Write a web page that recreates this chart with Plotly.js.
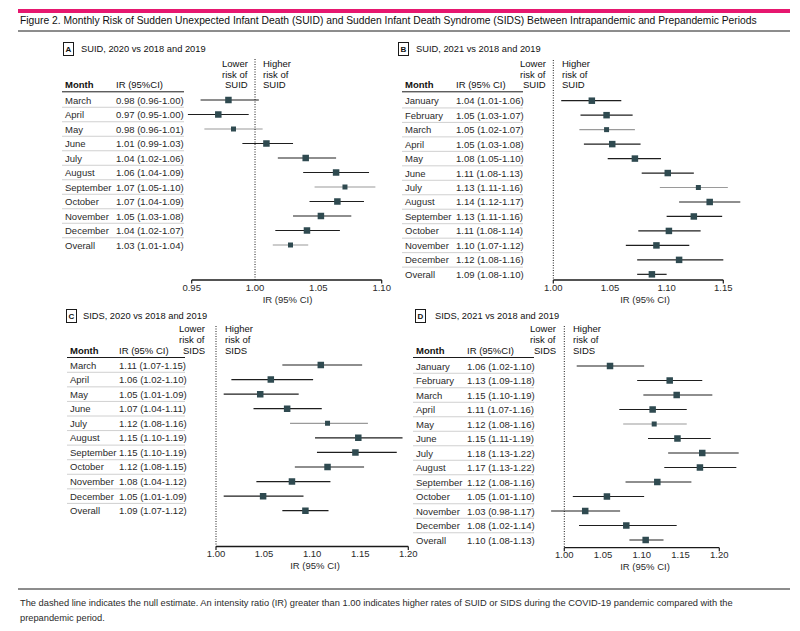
<!DOCTYPE html>
<html>
<head>
<meta charset="utf-8">
<script src="https://cdn.plot.ly/plotly-3.0.1.min.js"></script>
<style>
  html, body { margin: 0; padding: 0; background: #ffffff; }
  #chart { width: 800px; height: 631px; }
</style>
</head>
<body>
<div id="chart"></div>
<script>
// ---------------- DATA ----------------
const titleText = 'Figure 2. Monthly Risk of Sudden Unexpected Infant Death (SUID) and Sudden Infant Death Syndrome (SIDS) Between Intrapandemic and Prepandemic Periods';
const footLine1 = 'The dashed line indicates the null estimate. An intensity ratio (IR) greater than 1.00 indicates higher rates of SUID or SIDS during the COVID-19 pandemic compared with the';
const footLine2 = 'prepandemic period.';

// Panel A: SUID, 2020 vs 2018 and 2019
const monthsA = ['March','April','May','June','July','August','September','October','November','December','Overall'];
const irTextA = ['0.98 (0.96-1.00)','0.97 (0.95-1.00)','0.98 (0.96-1.01)','1.01 (0.99-1.03)','1.04 (1.02-1.06)','1.06 (1.04-1.09)','1.07 (1.05-1.10)','1.07 (1.04-1.09)','1.05 (1.03-1.08)','1.04 (1.02-1.07)','1.03 (1.01-1.04)'];
const estA = [0.979,0.971,0.983,1.009,1.040,1.064,1.071,1.065,1.052,1.041,1.028];
const loA  = [0.957,0.947,0.960,0.990,1.018,1.038,1.047,1.043,1.030,1.016,1.014];
const hiA  = [1.003,0.995,1.006,1.030,1.064,1.090,1.095,1.086,1.076,1.067,1.042];
const ticksA = [0.95,1.00,1.05,1.10];

// Panel B: SUID, 2021 vs 2018 and 2019
const monthsB = ['January','February','March','April','May','June','July','August','September','October','November','December','Overall'];
const irTextB = ['1.04 (1.01-1.06)','1.05 (1.03-1.07)','1.05 (1.02-1.07)','1.05 (1.03-1.08)','1.08 (1.05-1.10)','1.11 (1.08-1.13)','1.13 (1.11-1.16)','1.14 (1.12-1.17)','1.13 (1.11-1.16)','1.11 (1.08-1.14)','1.10 (1.07-1.12)','1.12 (1.08-1.16)','1.09 (1.08-1.10)'];
const estB = [1.034,1.047,1.047,1.052,1.072,1.101,1.128,1.138,1.124,1.102,1.091,1.111,1.087];
const loB  = [1.007,1.024,1.023,1.027,1.048,1.078,1.094,1.111,1.100,1.075,1.064,1.074,1.074];
const hiB  = [1.060,1.070,1.072,1.077,1.095,1.124,1.154,1.165,1.149,1.130,1.120,1.150,1.100];
const ticksB = [1.00,1.05,1.10,1.15];

// Panel C: SIDS, 2020 vs 2018 and 2019
const monthsC = ['March','April','May','June','July','August','September','October','November','December','Overall'];
const irTextC = ['1.11 (1.07-1.15)','1.06 (1.02-1.10)','1.05 (1.01-1.09)','1.07 (1.04-1.11)','1.12 (1.08-1.16)','1.15 (1.10-1.19)','1.15 (1.10-1.19)','1.12 (1.08-1.15)','1.08 (1.04-1.12)','1.05 (1.01-1.09)','1.09 (1.07-1.12)'];
const estC = [1.109,1.057,1.046,1.074,1.116,1.148,1.145,1.116,1.079,1.049,1.093];
const loC  = [1.069,1.016,1.008,1.039,1.077,1.103,1.105,1.082,1.042,1.008,1.069];
const hiC  = [1.152,1.101,1.086,1.110,1.158,1.194,1.188,1.154,1.119,1.091,1.117];
const ticksC = [1.00,1.05,1.10,1.15,1.20];

// Panel D: SIDS, 2021 vs 2018 and 2019
const monthsD = ['January','February','March','April','May','June','July','August','September','October','November','December','Overall'];
const irTextD = ['1.06 (1.02-1.10)','1.13 (1.09-1.18)','1.15 (1.10-1.19)','1.11 (1.07-1.16)','1.12 (1.08-1.16)','1.15 (1.11-1.19)','1.18 (1.13-1.22)','1.17 (1.13-1.22)','1.12 (1.08-1.16)','1.05 (1.01-1.10)','1.03 (0.98-1.17)','1.08 (1.02-1.14)','1.10 (1.08-1.13)'];
const estD = [1.059,1.136,1.145,1.114,1.116,1.146,1.178,1.175,1.120,1.055,1.027,1.080,1.105];
const loD  = [1.016,1.094,1.102,1.071,1.076,1.108,1.134,1.129,1.079,1.011,0.983,1.019,1.084];
const hiD  = [1.103,1.178,1.191,1.158,1.158,1.189,1.225,1.222,1.164,1.103,1.072,1.145,1.128];
const ticksD = [1.00,1.05,1.10,1.15,1.20];

// ---------------- STYLE / LAYOUT ----------------
const W = 800, H = 631;
const FONT = '"Liberation Sans", Arial, sans-serif';
const FS = 9.5;
const TXT = '#2a2a2a';
const MARK = '#2f4a50';
const LINE_DARK = '#1e1e1e';
const LINE_GRAY = '#9a9a9a';
const px = x => x / W;
const py = y => 1 - y / H;

const panels = [
  {label:'A', title:'SUID, 2020 vs 2018 and 2019', outcome:'SUID', irHeader:'IR (95%CI)',
   months:monthsA, irText:irTextA, est:estA, lo:loA, hi:hiA, ticks:ticksA,
   pos:{dom:[185,390], ref:[0.95,191.7,1.10,381.7], axisY:280, dashTop:59, row0:100, step:14.5,
        monthX:63, irX:114, tableL:62, tableR:184, lowerX:250, higherX:261, headerY:84.3,
        boxX:68, boxY:49.5, titleX:79, gray:[2,6,10]}},
  {label:'B', title:'SUID, 2021 vs 2018 and 2019', outcome:'SUID', irHeader:'IR (95% CI)',
   months:monthsB, irText:irTextB, est:estB, lo:loB, hi:hiB, ticks:ticksB,
   pos:{dom:[545,745], ref:[1.00,553.3,1.15,723.3], axisY:280, dashTop:60, row0:100.7, step:14.47,
        monthX:403, irX:454, tableL:402, tableR:523, lowerX:547.5, higherX:559.5, headerY:84.3,
        boxX:403.5, boxY:49, titleX:414, gray:[2,6]}},
  {label:'C', title:'SIDS, 2020 vs 2018 and 2019', outcome:'SIDS', irHeader:'IR (95% CI)',
   months:monthsC, irText:irTextC, est:estC, lo:loC, hi:hiC, ticks:ticksC,
   pos:{dom:[210,420], ref:[1.00,216,1.20,408.3], axisY:546.5, dashTop:326, row0:365, step:14.57,
        monthX:68, irX:116.7, tableL:67, tableR:185, lowerX:207, higherX:222.5, headerY:350,
        boxX:71, boxY:316, titleX:81, gray:[4]}},
  {label:'D', title:'SIDS, 2021 vs 2018 and 2019', outcome:'SIDS', irHeader:'IR (95%CI)',
   months:monthsD, irText:irTextD, est:estD, lo:loD, hi:hiD, ticks:ticksD,
   pos:{dom:[545,745], ref:[1.00,564.3,1.20,719.3], axisY:547.7, dashTop:326, row0:366, step:14.5,
        monthX:414, irX:465, tableL:413, tableR:534, lowerX:557.7, higherX:571, headerY:350,
        boxX:420.5, boxY:315.5, titleX:433, gray:[4]}}
];

const data = [];
const layout = {
  width: W, height: H,
  margin: {l:0, r:0, t:0, b:0},
  paper_bgcolor: '#ffffff', plot_bgcolor: 'rgba(0,0,0,0)',
  font: {family: FONT, size: FS, color: TXT},
  showlegend: false,
  annotations: [], shapes: []
};
const A = layout.annotations, S = layout.shapes;

function note(text, x, y, opts) {
  A.push(Object.assign({text: text, x: px(x), y: py(y), xref:'paper', yref:'paper',
    showarrow:false, xanchor:'left', yanchor:'middle', font:{size:FS, color:TXT}}, opts || {}));
}
function hline(x0, x1, y, color, width, extra) {
  S.push(Object.assign({type:'line', xref:'paper', yref:'paper', x0:px(x0), x1:px(x1), y0:py(y), y1:py(y),
    line:{color:color, width:width}}, extra || {}));
}

panels.forEach((p, k) => {
  const n = k + 1;
  const xn = n === 1 ? 'x' : 'x' + n, yn = n === 1 ? 'y' : 'y' + n;
  const xk = n === 1 ? 'xaxis' : 'xaxis' + n, yk = n === 1 ? 'yaxis' : 'yaxis' + n;
  const q = p.pos;
  const scale = (q.ref[3] - q.ref[1]) / (q.ref[2] - q.ref[0]);
  const xr = [q.ref[0] - (q.ref[1] - q.dom[0]) / scale, q.ref[0] + (q.dom[1] - q.ref[1]) / scale];
  const top = q.dashTop, bottom = q.axisY;
  const yr = [(bottom - q.row0) / q.step, (top - q.row0) / q.step];

  layout[xk] = {domain:[px(q.dom[0]), px(q.dom[1])], range:xr, anchor:yn,
    showgrid:false, zeroline:false, showline:false, ticks:'',
    tickvals:p.ticks, ticktext:p.ticks.map(v => v.toFixed(2)),
    tickfont:{size:FS, color:TXT}, fixedrange:true,
    title:{text:'IR (95% CI)', font:{size:FS, color:TXT}, standoff:4}};
  layout[yk] = {domain:[py(bottom), py(top)], range:yr, anchor:xn, visible:false, fixedrange:true};

  const rows = p.est.map((_, i) => i);
  const darkIdx = rows.filter(i => q.gray.indexOf(i) < 0);
  const grayIdx = rows.filter(i => q.gray.indexOf(i) >= 0);
  [[darkIdx, LINE_DARK, 6.5], [grayIdx, LINE_GRAY, 5]].forEach(([idx, col, sz]) => {
    if (!idx.length) return;
    data.push({type:'scatter', mode:'markers', xaxis:xn, yaxis:yn, hoverinfo:'skip',
      x: idx.map(i => p.est[i]), y: idx,
      marker:{symbol:'square', size:sz, color:MARK},
      error_x:{type:'data', symmetric:false,
        array: idx.map(i => p.hi[i] - p.est[i]),
        arrayminus: idx.map(i => p.est[i] - p.lo[i]),
        width:0, thickness:1.2, color:col}});
  });

  // axis line and end ticks
  const t0 = p.ticks[0], t1 = p.ticks[p.ticks.length - 1];
  S.push({type:'line', xref:xn, yref:'paper', x0:t0, x1:t1, y0:py(bottom), y1:py(bottom), line:{color:'#1a1a1a', width:1.3}});
  [t0, t1].forEach(t => S.push({type:'line', xref:xn, yref:'paper', x0:t, x1:t, y0:py(bottom), y1:py(bottom + 3.5), line:{color:'#1a1a1a', width:1.2}}));
  // null (dashed) line
  S.push({type:'line', xref:xn, yref:'paper', x0:1, x1:1, y0:py(top), y1:py(bottom), line:{color:'#1a1a1a', width:1, dash:'1px,1.5px'}});

  // table
  p.months.forEach((m, i) => {
    A.push({text:m, xref:'paper', yref:yn, x:px(q.monthX), y:i, showarrow:false, xanchor:'left', yanchor:'middle', font:{size:FS, color:TXT}});
    A.push({text:p.irText[i], xref:'paper', yref:yn, x:px(q.irX), y:i, showarrow:false, xanchor:'left', yanchor:'middle', font:{size:FS, color:TXT}});
    if (i < p.months.length - 1) {
      S.push({type:'line', xref:'paper', yref:yn, x0:px(q.tableL), x1:px(q.tableR), y0:i + 0.5, y1:i + 0.5, line:{color:'#c4c4c4', width:0.8}});
    }
  });
  note('<b>Month</b>', q.monthX, q.headerY, {font:{size:FS, color:'#111'}});
  note(p.irHeader, q.irX, q.headerY, {font:{size:FS, color:'#111'}});
  hline(q.tableL, q.tableR, q.headerY + 7.5, '#1a1a1a', 1);

  // risk labels
  ['Lower', 'risk of', p.outcome].forEach((t, j) => note(t, q.lowerX, q.headerY - 21 + j * 10.7, {xanchor:'right', font:{size:FS, color:'#111'}}));
  ['Higher', 'risk of', p.outcome].forEach((t, j) => note(t, q.higherX, q.headerY - 21 + j * 10.7, {xanchor:'left', font:{size:FS, color:'#111'}}));

  // panel label and title
  note('<b>' + p.label + '</b>', q.boxX, q.boxY, {xanchor:'center', bordercolor:'#1a1a1a', borderwidth:1, borderpad:1.5, font:{size:8, color:'#111'}});
  note(p.title, q.titleX, q.boxY, {font:{size:9.3, color:'#111'}});
});

// figure title block
hline(18, 790, 11, '#e6176f', 4);
note(titleText, 18, 21, {font:{size:10.3, color:'#111'}});
hline(18, 790, 31, '#1a1a1a', 1);
// footer
hline(18, 790, 589, '#1a1a1a', 1);
note(footLine1, 18, 603, {font:{size:9.3, color:TXT}});
note(footLine2, 18, 618, {font:{size:9.3, color:TXT}});

Plotly.newPlot('chart', data, layout, {displayModeBar:false, staticPlot:true});
</script>
</body>
</html>
